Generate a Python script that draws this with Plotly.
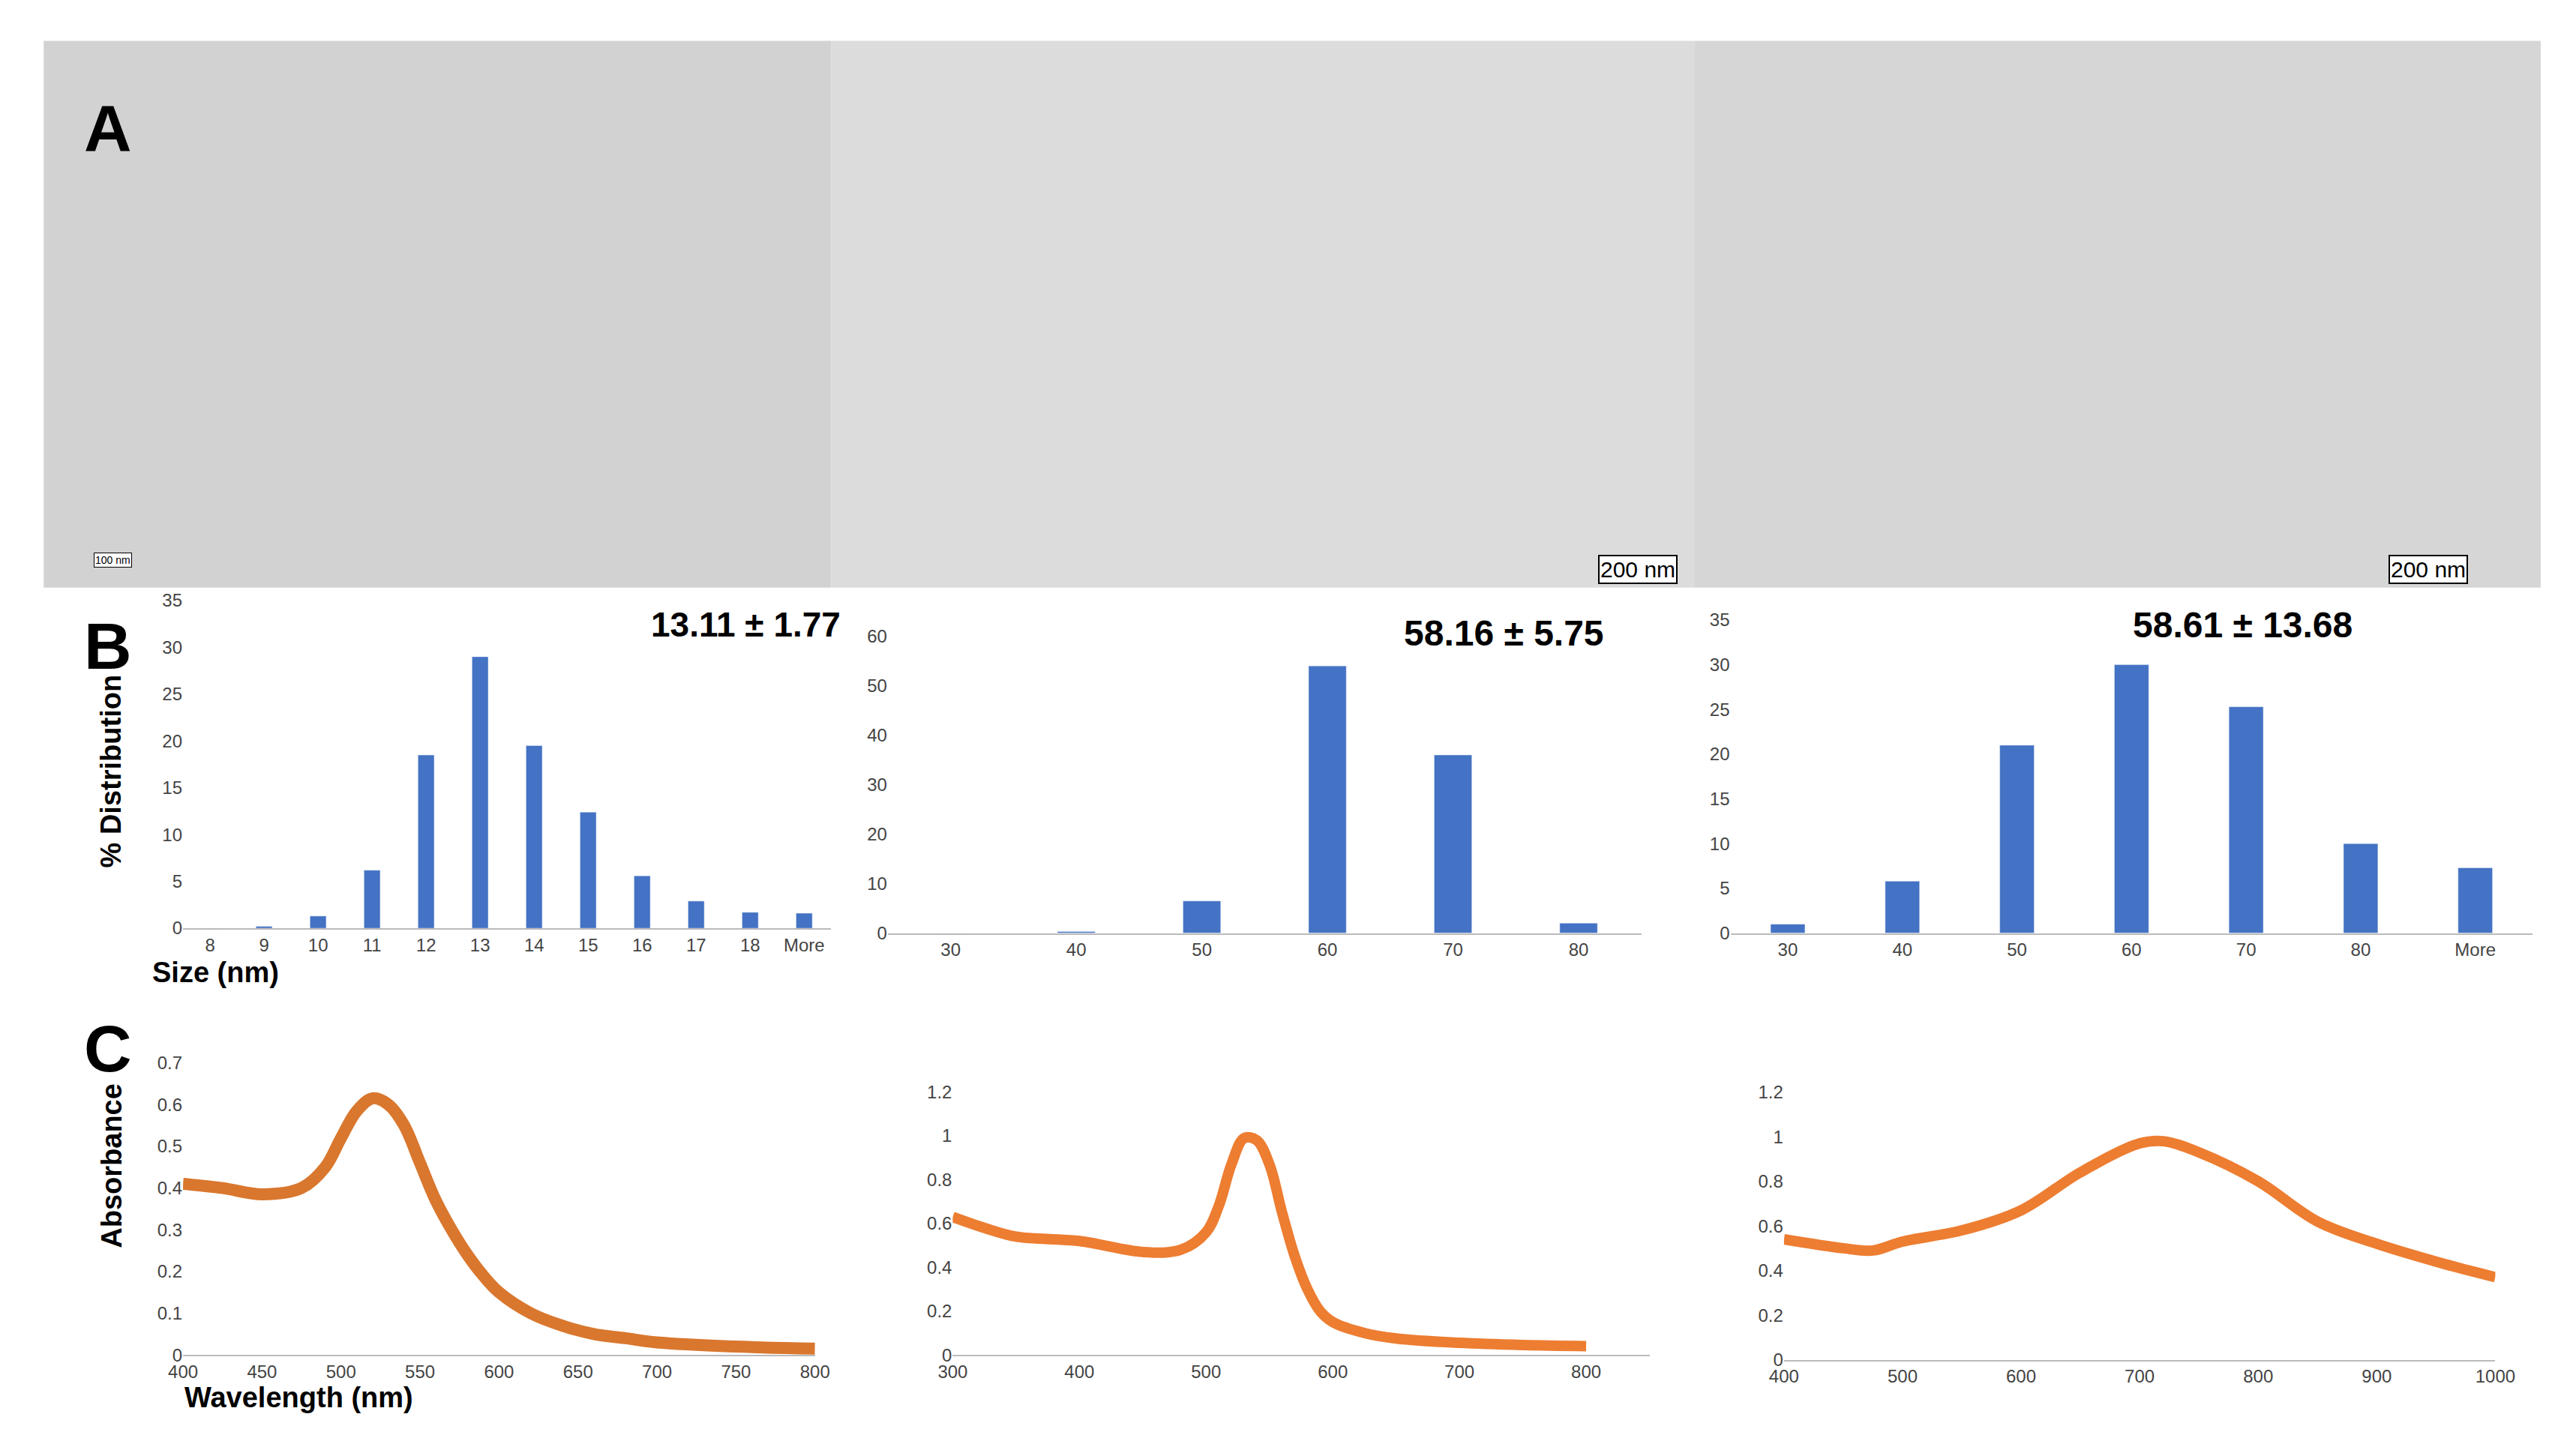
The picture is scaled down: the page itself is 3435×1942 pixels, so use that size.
import plotly.graph_objects as go

W, H = 1568.0, 885.0
b1_cat = ["8","9","10","11","12","13","14","15","16","17","18","More"]
b1_val = [0,0.2,1.3,6.2,18.5,29,19.5,12.4,5.6,2.9,1.7,1.6]
b2_cat = ["30","40","50","60","70","80"]
b2_val = [0,0.3,6.5,54,36,2]
b3_cat = ["30","40","50","60","70","80","More"]
b3_val = [1,5.8,21,30,25.3,10,7.3]

c1_x = [400,425,450,475,490,500,510,520,530,540,550,560,570,580,590,600,620,640,660,680,700,750,800]
c1_y = [0.41,0.40,0.385,0.40,0.45,0.52,0.585,0.615,0.60,0.55,0.46,0.37,0.30,0.24,0.19,0.15,0.10,0.07,0.05,0.04,0.03,0.02,0.015]
c2_x = [300,325,350,400,450,480,500,510,520,530,540,550,560,570,580,590,600,625,650,700,750,800]
c2_y = [0.63,0.58,0.54,0.52,0.47,0.48,0.56,0.68,0.87,0.99,0.98,0.87,0.65,0.45,0.30,0.20,0.15,0.10,0.075,0.055,0.045,0.04]
c3_x = [400,450,475,500,550,600,650,700,720,750,800,850,900,950,1000]
c3_y = [0.54,0.50,0.49,0.53,0.58,0.67,0.84,0.97,0.98,0.93,0.80,0.62,0.52,0.44,0.37]

def dx(a, b): return [a/W, b/W]
def dy(top, bot): return [1-bot/H, 1-top/H]

fig = go.Figure()
BAR = "#4472C4"
TF = dict(family="Liberation Sans, Arial", size=24, color="#444")
specs = [
    ("x", "y", dx(100,500), dy(360,562)),
    ("x2", "y2", dx(535,1000), dy(382,565)),
    ("x3", "y3", dx(1055,1550), dy(372,565)),
    ("x4", "y4", dx(100,490), dy(645,825)),
    ("x5", "y5", dx(575,1005), dy(663,825)),
    ("x6", "y6", dx(1088,1527), dy(663,828)),
]
fig.add_trace(go.Bar(x=b1_cat, y=b1_val, marker_color=BAR, width=0.3, xaxis="x", yaxis="y"))
fig.add_trace(go.Bar(x=b2_cat, y=b2_val, marker_color=BAR, width=0.3, xaxis="x2", yaxis="y2"))
fig.add_trace(go.Bar(x=b3_cat, y=b3_val, marker_color=BAR, width=0.3, xaxis="x3", yaxis="y3"))
fig.add_trace(go.Scatter(x=c1_x, y=c1_y, mode="lines", line=dict(color="#D9772E", width=16, shape="spline"), xaxis="x4", yaxis="y4"))
fig.add_trace(go.Scatter(x=c2_x, y=c2_y, mode="lines", line=dict(color="#ED7D31", width=14, shape="spline"), xaxis="x5", yaxis="y5"))
fig.add_trace(go.Scatter(x=c3_x, y=c3_y, mode="lines", line=dict(color="#ED7D31", width=14, shape="spline"), xaxis="x6", yaxis="y6"))

yr = [([0,35],5),([0,60],10),([0,35],5),([0,0.7],0.1),([0,1.2],0.2),([0,1.2],0.2)]
xr = [None,None,None,([400,800],50),([300,800],100),([400,1000],100)]
lay = {}
for i,(xa,ya,xd,yd) in enumerate(specs):
    xk = "xaxis" + ("" if i==0 else str(i+1)); yk = "yaxis" + ("" if i==0 else str(i+1))
    xax = dict(domain=xd, anchor=ya, showline=True, linecolor="#bbb", linewidth=2, showgrid=False,
               tickfont=TF, ticks="", zeroline=False)
    if xr[i]:
        xax.update(range=xr[i][0], dtick=xr[i][1])
    if i == 4:
        xax.update(range=[300, 850])
    yax = dict(domain=yd, anchor=xa, range=yr[i][0], dtick=yr[i][1], showgrid=False, zeroline=False,
               showline=False, tickfont=TF)
    lay[xk] = xax; lay[yk] = yax
fig.update_layout(**lay)

shapes = []
for a, b, c in [(14,500,"#d2d2d2"),(500,1033,"#dcdcdc"),(1033,1555,"#d6d6d6")]:
    shapes.append(dict(type="rect", xref="paper", yref="paper", x0=a/W, x1=b/W, y0=1-352/H, y1=1-15/H,
                       fillcolor=c, line=dict(width=0)))
fig.update_layout(shapes=shapes)

def ann(t, x, y, size, bold=False, **kw):
    fig.add_annotation(text=("<b>%s</b>" % t) if bold else t, x=x/W, y=1-y/H, xref="paper", yref="paper",
                       showarrow=False, font=dict(family="Liberation Sans, Arial", size=size, color="black"), **kw)
ann("A", 38, 45, 88, True)
ann("B", 38, 388, 88, True)
ann("C", 38, 660, 88, True)
ann("13.11 ± 1.77", 388, 375, 46, True)
ann("58.16 ± 5.75", 915, 380, 48, True)
ann("58.61 ± 13.68", 1440, 375, 48, True)
ann("% Distribution", 45, 465, 38, True, textangle=-90)
ann("Size (nm)", 80, 600, 38, True)
ann("Absorbance", 45, 760, 38, True, textangle=-90)
ann("Wavelength (nm)", 100, 862, 38, True)
ann("200 nm", 998, 341, 30, bgcolor="white", bordercolor="black", borderwidth=2)
ann("200 nm", 1510, 341, 30, bgcolor="white", bordercolor="black", borderwidth=2)
ann("100 nm", 45, 335, 14, bgcolor="white", bordercolor="black", borderwidth=1)

fig.update_layout(width=3435, height=1942, showlegend=False, plot_bgcolor="white", paper_bgcolor="white",
                  margin=dict(l=0, r=0, t=0, b=0))
fig.write_html("out.html")
